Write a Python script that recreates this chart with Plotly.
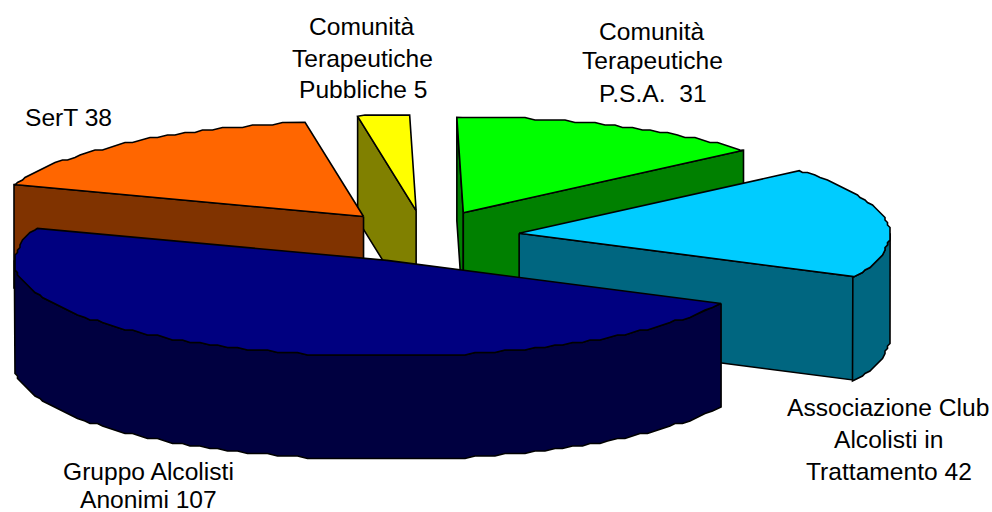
import math
import plotly.graph_objects as go

categories = ["Comunità Terapeutiche P.S.A.", "Associazione Club Alcolisti in Trattamento",
              "Gruppo Alcolisti Anonimi", "SerT", "Comunità Terapeutiche Pubbliche"]
values = [31, 42, 107, 38, 5]
top_colors = ["#00FF00", "#00CCFF", "#000080", "#FF6600", "#FFFF00"]
side_colors = ["#008000", "#006680", "#000040", "#803300", "#808000"]
draw_order = [4, 3, 0, 1, 2]

label_lines = [
    ("Comunità", 362, 26), ("Terapeutiche", 362, 58), ("Pubbliche 5", 363, 89),
    ("Comunità", 652, 31), ("Terapeutiche", 652, 60), ("P.S.A.  31", 653, 93),
    ("SerT 38", 68, 117),
    ("Associazione Club", 888, 407), ("Alcolisti in", 888, 439), ("Trattamento 42", 889, 471),
    ("Gruppo Alcolisti", 148, 471), ("Anonimi 107", 148, 499),
]

CX, CY = 424.5, 236.5   # pie centre in the plot's coordinate frame
RX, RY = 371, 95.5      # ellipse radii of the tilted disc
EXPLODE_X, EXPLODE_Y = 0.257, 0.272   # explosion as a fraction of the radius
DEPTH = 103.5           # height of the disc
START = -1              # first slice angle, degrees clockwise from the top
GRID = 2.5              # coarse rasterisation of the arcs, as in the reference
STEP = 1.6              # angular sampling of the arcs, degrees
FRONT_WIDEN = 0.00016   # slight perspective: nearer points spread outwards


def pt(c, t):
    a = math.radians(t)
    x = c[0] + RX * math.sin(a)
    y = c[1] - RY * math.cos(a)
    x += (x - CX) * FRONT_WIDEN * max(0, y - CY)
    return x, y


def arc(c, t0, t1):
    # samples sit on one global angle grid, so the rim and the top share their edge
    k = math.floor(t0 / STEP) + 1
    out = [pt(c, t0)]
    while k * STEP < t1:
        x, y = pt(c, k * STEP)
        out.append((round(x / GRID) * GRID, round(y / GRID) * GRID))
        k += 1
    out.append(pt(c, t1))
    return out


fig = go.Figure()


def poly(points, color):
    fig.add_trace(go.Scatter(
        x=[p[0] for p in points] + [points[0][0]],
        y=[p[1] for p in points] + [points[0][1]],
        mode="lines", fill="toself", fillcolor=color,
        line=dict(color="#000000", width=1.6), hoverinfo="skip", showlegend=False))


total = sum(values)
angles = []
t = START
for v in values:
    angles.append((t, t + 360 * v / total))
    t += 360 * v / total

for i in draw_order:
    t0, t1 = angles[i]
    mid = math.radians((t0 + t1) / 2)
    c = (CX + EXPLODE_X * RX * math.sin(mid), CY - EXPLODE_Y * RY * math.cos(mid))
    p0, p1 = pt(c, t0), pt(c, t1)
    if math.sin(math.radians(t0)) < 0:
        poly([c, p0, (p0[0], p0[1] + DEPTH), (c[0], c[1] + DEPTH)], side_colors[i])
    if math.sin(math.radians(t1)) > 0:
        poly([c, p1, (p1[0], p1[1] + DEPTH), (c[0], c[1] + DEPTH)], side_colors[i])
    a0, a1 = max(t0, 90), min(t1, 270)
    if a1 > a0:
        rim = arc(c, a0, a1)
        poly(rim + [(x, y + DEPTH) for x, y in reversed(rim)], side_colors[i])
    poly([c] + arc(c, t0, t1), top_colors[i])

for text, x, y in label_lines:
    fig.add_annotation(x=x, y=y, text=text, xref="x", yref="y", showarrow=False,
                       xanchor="center", yanchor="middle",
                       font=dict(family="Liberation Sans, Arial, sans-serif", size=24.6, color="#000000"))

fig.update_xaxes(range=[0, 992], visible=False, fixedrange=True)
fig.update_yaxes(range=[512, 0], visible=False, fixedrange=True)
fig.update_layout(width=992, height=512, margin=dict(l=0, r=0, t=0, b=0),
                  paper_bgcolor="#FFFFFF", plot_bgcolor="#FFFFFF", showlegend=False)
fig.write_html("out.html", config={"displayModeBar": False},
               post_script="document.body.style.margin='0';")
